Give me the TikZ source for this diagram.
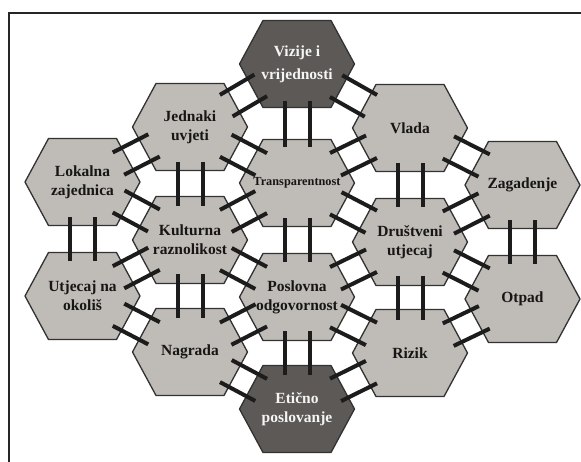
\documentclass[tikz,border=0pt]{standalone}
\usepackage{fontspec}
\setmainfont{Liberation Serif}
\usetikzlibrary{calc}

\definecolor{hexlight}{RGB}{191,187,182}
\definecolor{hexdark}{RGB}{92,89,86}
\definecolor{hexedge}{RGB}{50,50,50}
\definecolor{rungcol}{RGB}{28,28,28}
\definecolor{inkdark}{RGB}{22,22,22}
\definecolor{inklight}{RGB}{245,245,245}

\tikzset{
  hexbody/.style={draw=hexedge, line width=1.3pt, line join=miter},
  lighthex/.style={hexbody, fill=hexlight},
  darkhex/.style={hexbody, fill=hexdark},
  labeltext/.style={align=center, inner sep=0pt,
    font=\fontsize{15.5}{19}\selectfont\bfseries},
  lightlabel/.style={labeltext, text=inkdark},
  darklabel/.style={labeltext, text=inklight},
  rung/.style={draw=rungcol, line width=4pt},
  frameline/.style={draw=black!85, line width=1.2pt},
}

% hexagonal cell: #1 name, #2 centre, #3 body style, #4 label style, #5 text
\newcommand\hexcell[5]{%
  \begin{scope}[shift={#2}]
    \path[#3] (-57.5,0) -- (-34,-43.5) -- (34,-43.5) -- (57.5,0)
      -- (34,43.5) -- (-34,43.5) -- cycle;
  \end{scope}
  \node[#4] (#1) at #2 {#5};}

% pair of rungs joining two cells; optional half length of a rung
\newcommand\ladder[3][20]{%
  \path let \p1=($(#3)-(#2)$), \n1={atan2(\y1,\x1)} in
    \pgfextra{\xdef\rungangle{\n1}};
  \begin{scope}[shift={($(#2)!0.5!(#3)$)}, rotate=\rungangle]
    \draw[rung] (-#1,-12.5) -- (#1,-12.5);
    \draw[rung] (-#1,12.5) -- (#1,12.5);
  \end{scope}}

\begin{document}
\begin{tikzpicture}[x=1pt, y=-1pt]
  \useasboundingbox (0,0) rectangle (581,461);
  \fill[white] (0,0) rectangle (581,461);
  \draw[frameline] (9,462) -- (9,13) -- (582,13);

  % left column
  \hexcell{lok}{(82.5,182)}{lighthex}{lightlabel}{Lokalna\\zajednica}
  \hexcell{utj}{(82.5,296)}{lighthex}{lightlabel}{Utjecaj na\\okoliš}
  % second column
  \hexcell{jed}{(190,127)}{lighthex}{lightlabel}{Jednaki\\uvjeti}
  \hexcell{kul}{(190,240)}{lighthex}{lightlabel}{Kulturna\\raznolikost}
  \hexcell{nag}{(190,352)}{lighthex}{lightlabel}{Nagrada}
  % middle column
  \hexcell{viz}{(297,64)}{darkhex}{darklabel,
    font=\fontsize{15.5}{23}\selectfont\bfseries}{Vizije i\\vrijednosti}
  \hexcell{tra}{(297,183)}{lighthex}{lightlabel,
    font=\fontsize{12.3}{15}\selectfont\bfseries}{Transparentnost}
  \hexcell{pos}{(297,297)}{lighthex}{lightlabel}{Poslovna\\odgovornost}
  \hexcell{eti}{(297,409)}{darkhex}{darklabel}{Etično\\poslovanje}
  % fourth column
  \hexcell{vla}{(410,128)}{lighthex}{lightlabel}{Vlada}
  \hexcell{dru}{(410,242)}{lighthex}{lightlabel}{Društveni\\utjecaj}
  \hexcell{riz}{(410,353)}{lighthex}{lightlabel}{Rizik}
  % right column
  \hexcell{zag}{(522.5,185)}{lighthex}{lightlabel}{Zagadenje}
  \hexcell{otp}{(522.5,299)}{lighthex}{lightlabel}{Otpad}

  % vertical links
  \ladder[23]{viz}{tra}
  \ladder[22]{jed}{kul}
  \ladder[22]{kul}{nag}
  \ladder[22]{lok}{utj}
  \ladder[22]{tra}{pos}
  \ladder[22]{pos}{eti}
  \ladder[22]{vla}{dru}
  \ladder[22]{dru}{riz}
  \ladder[22]{zag}{otp}
  % diagonal links
  \ladder{jed}{viz}
  \ladder{viz}{vla}
  \ladder{lok}{jed}
  \ladder{jed}{tra}
  \ladder{lok}{kul}
  \ladder{kul}{utj}
  \ladder{kul}{tra}
  \ladder{kul}{pos}
  \ladder{utj}{nag}
  \ladder{nag}{pos}
  \ladder{nag}{eti}
  \ladder{tra}{vla}
  \ladder{tra}{dru}
  \ladder{pos}{dru}
  \ladder{pos}{riz}
  \ladder{eti}{riz}
  \ladder{vla}{zag}
  \ladder{dru}{zag}
  \ladder{dru}{otp}
  \ladder{riz}{otp}
\end{tikzpicture}
\end{document}
